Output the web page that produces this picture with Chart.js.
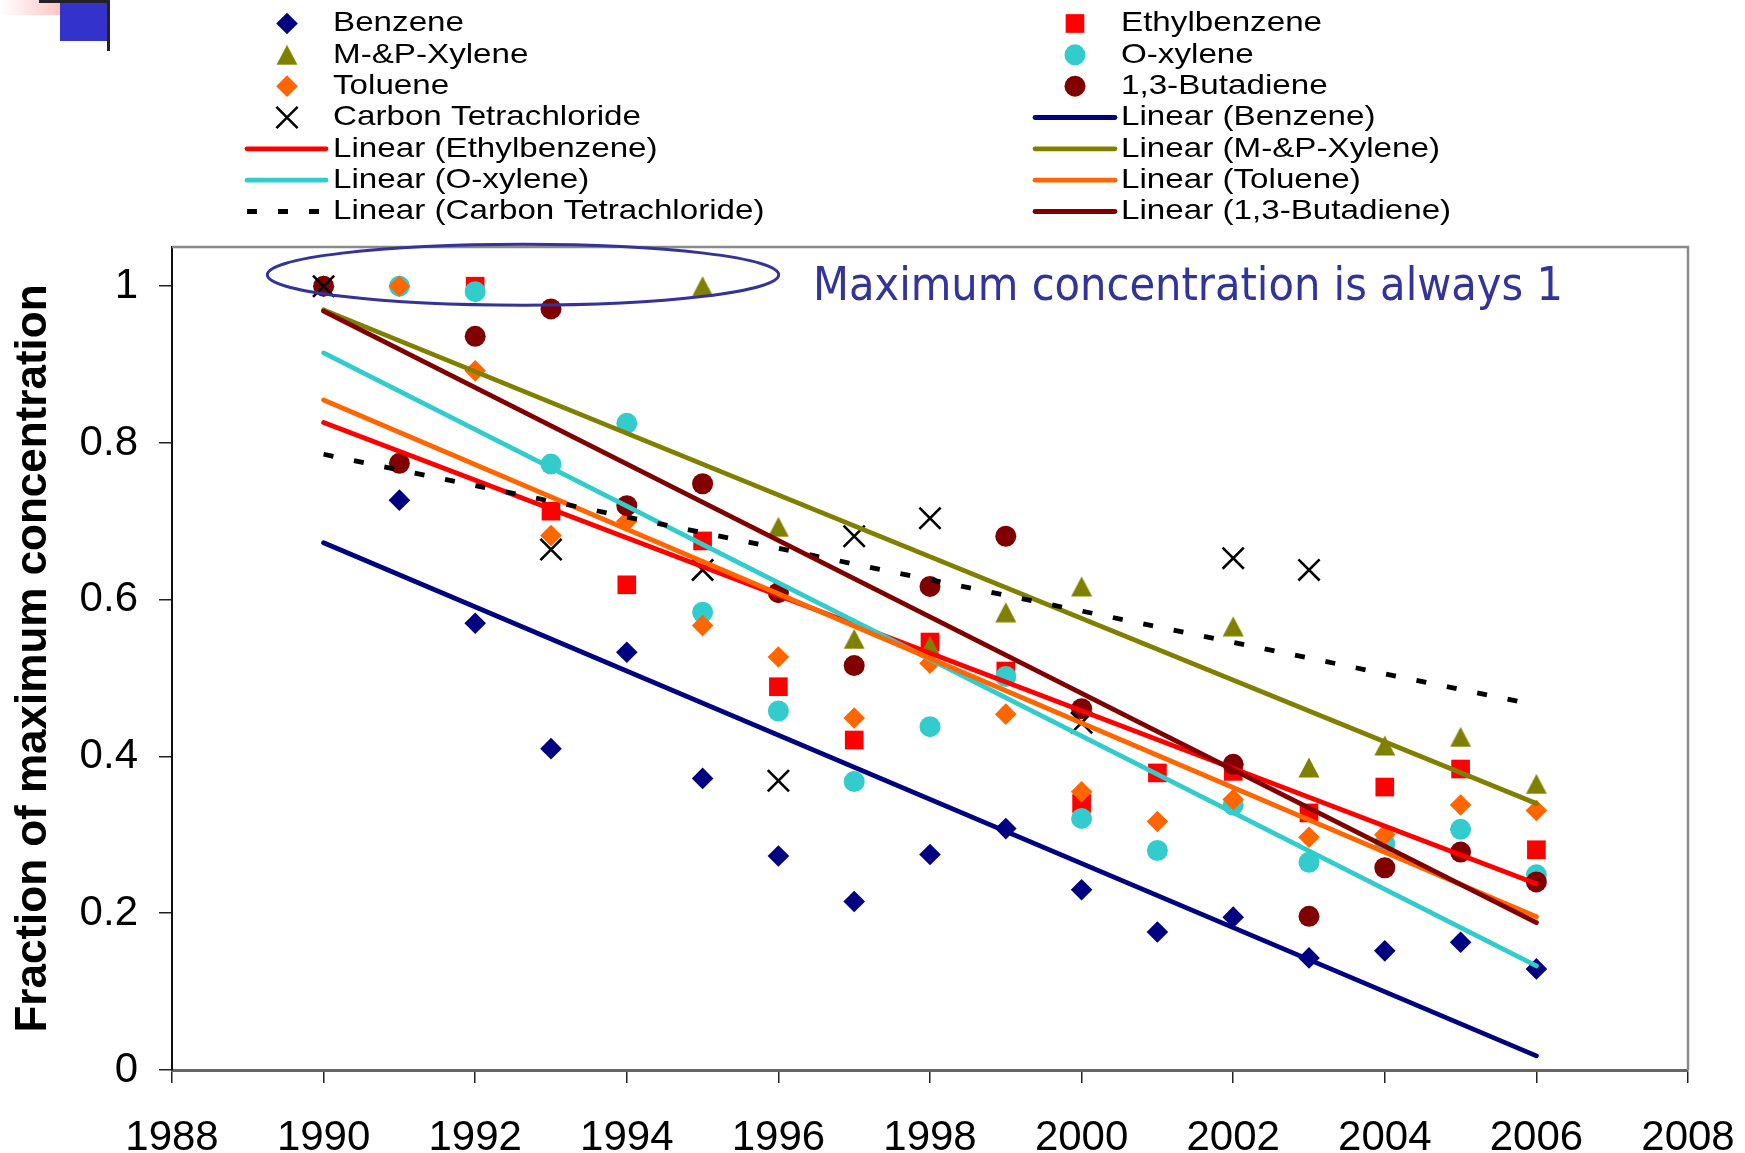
<!DOCTYPE html>
<html>
<head>
<meta charset="utf-8">
<title>Fraction of maximum concentration</title>
<script src="https://cdn.jsdelivr.net/npm/chart.js@4/dist/chart.umd.min.js"></script>
<style>
  html, body { margin: 0; padding: 0; background: #ffffff; }
  #wrap { width: 1745px; height: 1153px; }
  canvas { display: block; }
</style>
</head>
<body>
<div id="wrap"><canvas id="chart" width="1745" height="1153"></canvas></div>
<script>
// Monitoring years
const years = [1990, 1991, 1992, 1993, 1994, 1995, 1996, 1997, 1998, 1999, 2000, 2001, 2002, 2003, 2004, 2005, 2006];

// Annual concentration as a fraction of each compound's maximum (null = no measurement)
const benzene      = [1.0, 0.727, 0.570, 0.410, 0.533, 0.372, 0.273, 0.215, 0.275, 0.308, 0.230, 0.176, 0.195, 0.143, 0.152, 0.163, 0.129];
const ethylbenzene = [null, null, 1.0, 0.713, 0.619, 0.675, 0.489, 0.421, 0.546, 0.509, 0.340, 0.379, 0.381, 0.328, 0.361, 0.384, 0.281];
const mpXylene     = [null, null, null, null, null, 1.0, 0.693, 0.550, 0.541, 0.584, 0.617, null, 0.566, 0.386, 0.414, 0.425, 0.365];
const oXylene      = [null, 1.0, 0.993, 0.773, 0.825, 0.584, 0.458, 0.368, 0.438, 0.502, 0.321, 0.280, 0.338, 0.265, 0.289, 0.307, 0.249];
const toluene      = [null, 1.0, 0.892, 0.682, 0.700, 0.567, 0.527, 0.449, 0.519, 0.454, 0.355, 0.317, 0.345, 0.297, 0.300, 0.338, 0.331];
const butadiene    = [1.0, 0.774, 0.936, 0.971, 0.720, 0.748, 0.609, 0.516, 0.617, 0.681, 0.461, null, 0.390, 0.196, 0.258, 0.278, 0.240];
const carbonTet    = [1.0, null, null, 0.664, null, 0.638, 0.369, 0.681, 0.704, null, 0.443, null, 0.653, 0.638, null, null, null];

// Axis ticks
const xTickValues = [1988, 1990, 1992, 1994, 1996, 1998, 2000, 2002, 2004, 2006, 2008];
const xTickLabels = ['1988', '1990', '1992', '1994', '1996', '1998', '2000', '2002', '2004', '2006', '2008'];
const yTickValues = [0, 0.2, 0.4, 0.6, 0.8, 1];
const yTickLabels = ['0', '0.2', '0.4', '0.6', '0.8', '1'];

const yAxisTitle = 'Fraction of maximum concentration';
const noteText = 'Maximum concentration is always 1';

const FONT = '"Liberation Sans", Arial, Helvetica, sans-serif';

// Isosceles triangle marker (Excel style: box-centred on the value)
function triangleMarker(color) {
  const c = document.createElement('canvas');
  c.width = 22; c.height = 21;
  const g = c.getContext('2d');
  g.fillStyle = color;
  g.beginPath();
  g.moveTo(11, 0.5);
  g.lineTo(21.5, 20.5);
  g.lineTo(0.5, 20.5);
  g.closePath();
  g.fill();
  return c;
}

const series = [
  { label: 'Benzene',              values: benzene,      color: '#000080', style: 'rectRot',  radius: 10.8 },
  { label: 'Ethylbenzene',         values: ethylbenzene, color: '#FF0000', style: 'rect',     radius: 13.2 },
  { label: 'M-&P-Xylene',          values: mpXylene,     color: '#808000', style: triangleMarker('#808000'), radius: 11 },
  { label: 'O-xylene',             values: oXylene,      color: '#33CCCC', style: 'circle',   radius: 10.5 },
  { label: 'Toluene',              values: toluene,      color: '#FF6600', style: 'rectRot',  radius: 10.8 },
  { label: '1,3-Butadiene',        values: butadiene,    color: '#800000', style: 'circle',   radius: 10.5 },
  { label: 'Carbon Tetrachloride', values: carbonTet,    color: '#000000', style: 'crossRot', radius: 15 }
];

// Order of the trend lines in the legend
const trendOrder = ['Benzene', 'Ethylbenzene', 'M-&P-Xylene', 'O-xylene', 'Toluene', 'Carbon Tetrachloride', '1,3-Butadiene'];

// Least-squares straight line through the measured points
function linearFit(xs, ys) {
  const pts = [];
  xs.forEach((x, i) => { if (ys[i] !== null) pts.push([x, ys[i]]); });
  const n = pts.length;
  const mx = pts.reduce((s, p) => s + p[0], 0) / n;
  const my = pts.reduce((s, p) => s + p[1], 0) / n;
  let sxy = 0, sxx = 0;
  pts.forEach(([x, y]) => { sxy += (x - mx) * (y - my); sxx += (x - mx) * (x - mx); });
  const slope = sxy / sxx;
  return x => my + slope * (x - mx);
}

const datasets = [];
series.forEach(s => {
  datasets.push({
    label: s.label,
    kind: 'marker',
    data: years.map((yr, i) => s.values[i] === null ? null : { x: yr, y: s.values[i] }).filter(p => p),
    showLine: false,
    pointStyle: s.style,
    pointRadius: s.radius,
    pointHoverRadius: s.radius,
    pointBackgroundColor: s.color,
    pointBorderColor: s.color,
    pointBorderWidth: s.style === 'crossRot' ? 2.6 : 0,
    backgroundColor: s.color,
    borderColor: s.color
  });
});
trendOrder.forEach(name => {
  const s = series.find(q => q.label === name);
  const f = linearFit(years, s.values);
  const x0 = years[0], x1 = years[years.length - 1];
  const dashed = name === 'Carbon Tetrachloride';
  datasets.push({
    label: 'Linear (' + name + ')',
    kind: 'trend',
    data: [{ x: x0, y: f(x0) }, { x: x1, y: f(x1) }],
    showLine: true,
    pointRadius: 0,
    pointHoverRadius: 0,
    borderColor: s.color,
    backgroundColor: s.color,
    borderWidth: dashed ? 4.8 : 4.8,
    borderDash: dashed ? [10, 21] : [],
    borderCapStyle: dashed ? 'butt' : 'round',
    fill: false
  });
});
// later entries are painted on top
datasets.forEach((d, i) => { d.order = datasets.length - i; });

// Two-column legend laid out in reading order
const legendPlugin = {
  id: 'twoColumnLegend',
  afterDraw(chart) {
    const ctx = chart.ctx;
    const cols = [
      { lineFrom: 247, lineTo: 326, marker: 287, text: 333 },
      { lineFrom: 1035, lineTo: 1115, marker: 1075, text: 1121 }
    ];
    const rowTop = 23.5, rowStep = 31.33;
    chart.data.datasets.forEach((d, i) => {
      const col = cols[i % 2];
      const y = rowTop + Math.floor(i / 2) * rowStep;
      ctx.save();
      if (d.kind === 'marker') {
        ctx.fillStyle = d.pointBackgroundColor;
        ctx.strokeStyle = d.pointBorderColor;
        ctx.lineWidth = d.pointBorderWidth;
        Chart.helpers.drawPoint(ctx, {
          pointStyle: d.pointStyle, radius: d.pointRadius, rotation: 0, borderWidth: d.pointBorderWidth
        }, col.marker, y);
      } else {
        ctx.strokeStyle = d.borderColor;
        ctx.lineWidth = d.borderWidth;
        ctx.setLineDash(d.borderDash);
        ctx.lineCap = d.borderCapStyle;
        ctx.beginPath();
        ctx.moveTo(col.lineFrom, y);
        ctx.lineTo(col.lineTo, y);
        ctx.stroke();
      }
      ctx.restore();
      ctx.save();
      ctx.fillStyle = '#000000';
      ctx.font = '28px ' + FONT;
      ctx.textBaseline = 'middle';
      ctx.textAlign = 'left';
      ctx.translate(col.text, y);
      ctx.scale(1.185, 1);
      ctx.fillText(d.label, 0, 0);
      ctx.restore();
    });
  }
};

// Plot frame, highlight ellipse, note text and the slide corner mark
const decorPlugin = {
  id: 'decor',
  beforeDatasetsDraw(chart) {
    const { ctx, chartArea: a } = chart;
    ctx.save();
    ctx.strokeStyle = '#8a8a8a';
    ctx.lineWidth = 2.5;
    ctx.beginPath();
    ctx.moveTo(a.left, a.top);
    ctx.lineTo(a.right, a.top);
    ctx.lineTo(a.right, a.bottom);
    ctx.stroke();
    ctx.restore();
  },
  afterDraw(chart) {
    const ctx = chart.ctx;
    ctx.save();
    ctx.strokeStyle = '#333399';
    ctx.lineWidth = 3;
    ctx.beginPath();
    ctx.ellipse(523, 274.7, 255.7, 30.5, 0, 0, Math.PI * 2);
    ctx.stroke();

    ctx.fillStyle = '#333399';
    ctx.font = '47px "DejaVu Sans Condensed", "DejaVu Sans", sans-serif';
    ctx.textBaseline = 'alphabetic';
    ctx.textAlign = 'left';
    ctx.fillText(noteText, 813, 300, 750);

    const g = ctx.createLinearGradient(0, 0, 92, 0);
    g.addColorStop(0, '#ffffff');
    g.addColorStop(1, '#ffa6a6');
    ctx.fillStyle = g;
    ctx.fillRect(0, 0, 92, 15);
    ctx.fillStyle = '#3333cc';
    ctx.fillRect(60, 3, 47, 38);
    ctx.fillStyle = '#222222';
    ctx.fillRect(39, 0, 71, 3);
    ctx.fillRect(107, 0, 3, 51);
    ctx.restore();
  }
};

new Chart(document.getElementById('chart'), {
  type: 'scatter',
  data: { datasets },
  plugins: [legendPlugin, decorPlugin],
  options: {
    responsive: false,
    animation: false,
    events: [],
    layout: { padding: { top: 247, right: 57, bottom: 0, left: 0 } },
    plugins: {
      legend: { display: false },
      tooltip: { enabled: false },
      title: { display: false }
    },
    scales: {
      x: {
        type: 'linear',
        min: xTickValues[0],
        max: xTickValues[xTickValues.length - 1],
        afterBuildTicks: scale => { scale.ticks = xTickValues.map(v => ({ value: v })); },
        afterFit: scale => { scale.height = 83; scale.paddingLeft = 0; scale.paddingRight = 0; },
        ticks: {
          autoSkip: false,
          maxRotation: 0,
          padding: 30,
          color: '#000000',
          font: { family: FONT, size: 42 },
          callback: (v, i) => xTickLabels[i]
        },
        grid: { display: true, drawOnChartArea: false, drawTicks: true, tickLength: 13, color: '#222222', lineWidth: 1.5 },
        border: { display: true, color: '#666666', width: 3 }
      },
      y: {
        type: 'linear',
        min: 0,
        max: 1.05,
        afterBuildTicks: scale => { scale.ticks = yTickValues.map(v => ({ value: v })); },
        afterFit: scale => { scale.width = 172; },
        ticks: {
          padding: 21,
          color: '#000000',
          font: { family: FONT, size: 42 },
          callback: (v, i) => yTickLabels[i]
        },
        title: {
          display: true,
          text: yAxisTitle,
          color: '#000000',
          font: { family: FONT, size: 44, weight: 'bold' },
          padding: { top: 7, bottom: 0 }
        },
        grid: { display: true, drawOnChartArea: false, drawTicks: true, tickLength: 13, color: '#222222', lineWidth: 1.5 },
        border: { display: true, color: '#111111', width: 2 }
      }
    }
  }
});
</script>
</body>
</html>
